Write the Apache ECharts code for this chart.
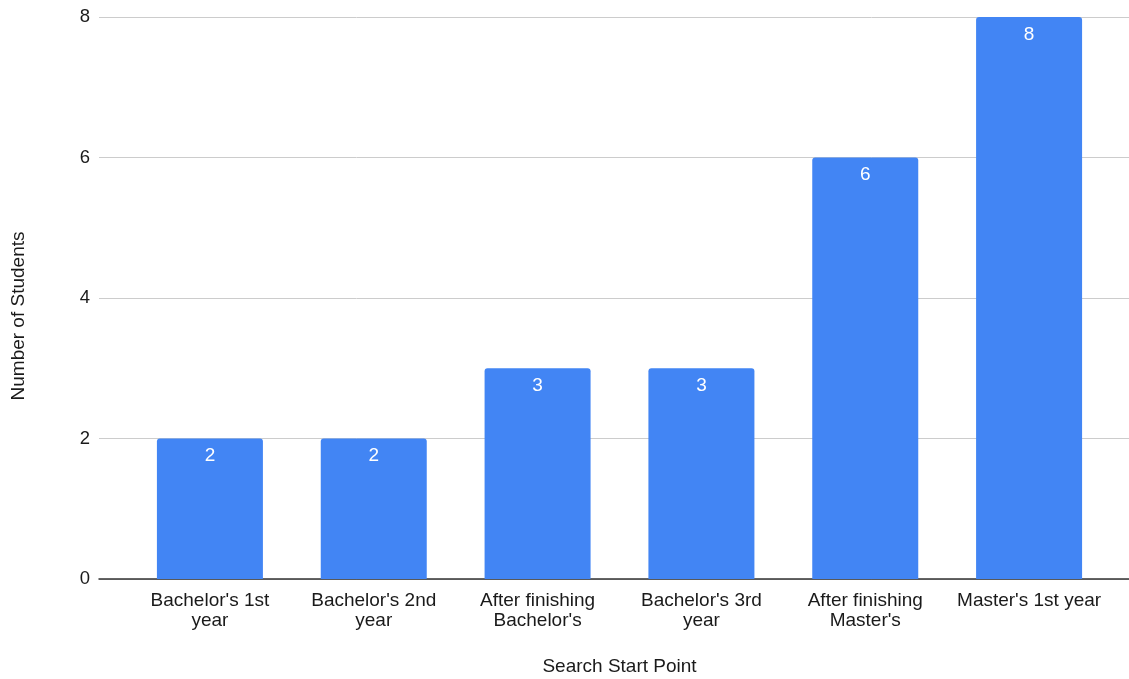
<!DOCTYPE html>
<html><head><meta charset="utf-8">
<script src="https://cdn.jsdelivr.net/npm/echarts@6/dist/echarts.min.js"></script>
<style>html,body{margin:0;padding:0;background:#fff}#c{width:1129px;height:679px}</style>
</head><body><div id="c"></div>
<script>
const categories = ["Bachelor's 1st\nyear", "Bachelor's 2nd\nyear", "After finishing\nBachelor's", "Bachelor's 3rd\nyear", "After finishing\nMaster's", "Master's 1st year"];
const students = [2, 2, 3, 3, 6, 8];
const yTicks = [0, 2, 4, 6, 8];

const FONT = "'Liberation Sans', Arial, sans-serif";
const chart = echarts.init(document.getElementById('c'), null, {renderer: 'canvas'});
chart.setOption({
  animation: false,
  textStyle: {fontFamily: FONT},
  grid: [
    {left: 99, right: 0, top: 17, bottom: 100, outerBoundsMode: 'none', containLabel: false},
    {left: 128, right: 18, top: 17, bottom: 100, outerBoundsMode: 'none', containLabel: false}
  ],
  xAxis: [
    {gridIndex: 0, type: 'value', min: 0, max: 1, show: true,
     axisLine: {show: true, lineStyle: {color: '#333', width: 1.5}},
     axisTick: {show: false}, axisLabel: {show: false}, splitLine: {show: false}},
    {gridIndex: 1, type: 'category', data: categories,
     name: 'Search Start Point', nameLocation: 'middle', nameGap: 78,
     nameTextStyle: {fontSize: 19, color: '#1a1a1a', fontFamily: FONT},
     axisLine: {show: false}, axisTick: {show: false},
     axisLabel: {fontSize: 19, color: '#1a1a1a', lineHeight: 20, margin: 12, interval: 0, fontFamily: FONT}}
  ],
  yAxis: [
    {gridIndex: 0, type: 'value', min: yTicks[0], max: yTicks[yTicks.length - 1], interval: 2,
     name: 'Number of Students', nameLocation: 'middle', nameGap: 71, nameRotate: 90,
     nameTextStyle: {fontSize: 19, color: '#1a1a1a', fontFamily: FONT, padding: [0, 36, 0, 0]},
     axisLine: {show: false}, axisTick: {show: false},
     axisLabel: {fontSize: 18.5, color: '#1a1a1a', margin: 9, fontFamily: FONT},
     splitLine: {show: true, lineStyle: {color: '#ccc', width: 1}}},
    {gridIndex: 1, type: 'value', min: yTicks[0], max: yTicks[yTicks.length - 1], interval: 2, show: false,
     splitLine: {show: false}}
  ],
  series: [{
    type: 'bar', xAxisIndex: 1, yAxisIndex: 1, data: students,
    barWidth: 106,
    itemStyle: {color: '#4285f4', borderRadius: [3, 3, 0, 0]},
    label: {show: true, position: 'insideTop', distance: 8, color: '#fff', fontSize: 19, fontFamily: FONT}
  }]
});
</script></body></html>
